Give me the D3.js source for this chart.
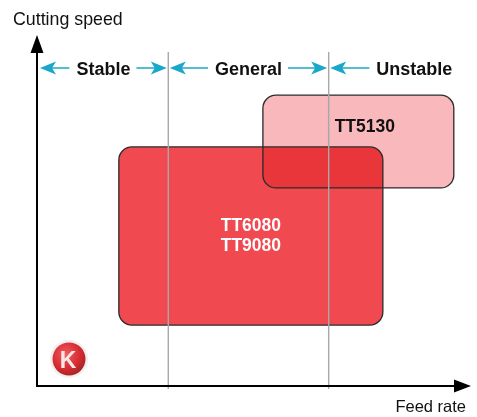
<!DOCTYPE html>
<html>
<head>
<meta charset="utf-8">
<script src="https://cdn.jsdelivr.net/npm/d3@7"></script>
<style>
  body { margin: 0; background: #fff; }
  svg text { font-family: "Liberation Sans", Arial, Helvetica, sans-serif; }
</style>
</head>
<body>
<div id="chart"></div>
<script>
// chart data (arbitrary units, 0..100 on both axes)
var zoneNames = ["Stable", "General", "Unstable"];
var zoneBounds = [0, 30.3, 67.6, 100];           // feed rate boundaries between zones
var gradeNames = [["TT6080", "TT9080"], ["TT5130"]];
var gradeFeed = [[18.8, 80.2], [52.3, 96.7]];     // feed rate extent of each grade box
var gradeSpeed = [[17.4, 68.3], [56.6, 83.1]];    // cutting speed extent of each grade box
var gradeColors = ["#f04a50", "#f8b8bc"];
var gradeTextColors = ["#ffffff", "#111111"];
var gradeLabelPos = [[49.5, 44.3], [76.0, 72.6]]; // label anchor [feed, speed]

var svgWidth = 477, svgHeight = 417;

var svg = d3.select("#chart").append("svg")
  .attr("width", svgWidth)
  .attr("height", svgHeight);

var x = d3.scaleLinear().domain([0, 100]).range([38, 468]);
var y = d3.scaleLinear().domain([0, 100]).range([386, 36]);

// grade boxes
var boxes = svg.append("g");
gradeNames.forEach(function(names, i) {
  boxes.append("rect")
    .attr("x", x(gradeFeed[i][0]))
    .attr("y", y(gradeSpeed[i][1]))
    .attr("width", x(gradeFeed[i][1]) - x(gradeFeed[i][0]))
    .attr("height", y(gradeSpeed[i][0]) - y(gradeSpeed[i][1]))
    .attr("rx", 13)
    .attr("fill", gradeColors[i])
    .style("mix-blend-mode", i > 0 ? "multiply" : "normal");
});
// outlines on top so both edges show through the overlap
gradeNames.forEach(function(names, i) {
  boxes.append("rect")
    .attr("x", x(gradeFeed[i][0]))
    .attr("y", y(gradeSpeed[i][1]))
    .attr("width", x(gradeFeed[i][1]) - x(gradeFeed[i][0]))
    .attr("height", y(gradeSpeed[i][0]) - y(gradeSpeed[i][1]))
    .attr("rx", 13)
    .attr("fill", "none")
    .attr("stroke", "#2a2a2a")
    .attr("stroke-width", 1.3);
});

// zone divider lines
svg.selectAll(".divider")
  .data(zoneBounds.slice(1, -1))
  .enter().append("line")
  .attr("class", "divider")
  .attr("x1", d => x(d)).attr("x2", d => x(d))
  .attr("y1", 52).attr("y2", 389)
  .attr("stroke", "#a8a8a8")
  .attr("stroke-width", 1.4);

// grade labels
gradeNames.forEach(function(names, i) {
  var t = svg.append("text")
    .attr("x", x(gradeLabelPos[i][0]))
    .attr("y", y(gradeLabelPos[i][1]))
    .attr("text-anchor", "middle")
    .attr("font-size", 17.5)
    .attr("font-weight", "bold")
    .attr("fill", gradeTextColors[i]);
  names.forEach(function(n, j) {
    t.append("tspan")
      .attr("x", x(gradeLabelPos[i][0]))
      .attr("dy", j === 0 ? 0 : 20)
      .text(n);
  });
});

// zone arrows
var arrowY = 68;
var cyan = "#1aa7c9";
function arrowHead(g, tipX, dir) {
  // dir = -1 points left, +1 points right
  var L = 16, W = 6.5, N = 4;
  g.append("path")
    .attr("d", "M" + tipX + "," + arrowY +
      "L" + (tipX - dir * L) + "," + (arrowY - W) +
      "L" + (tipX - dir * (L - N)) + "," + arrowY +
      "L" + (tipX - dir * L) + "," + (arrowY + W) + "Z")
    .attr("fill", cyan);
}
var zoneG = svg.append("g");
zoneNames.forEach(function(name, i) {
  var left = x(zoneBounds[i]) + (i === 0 ? 2 : 1.5);
  var right = x(zoneBounds[i + 1]) - 1.5;
  var mid = (left + right) / 2;
  var label = zoneG.append("text")
    .attr("x", mid)
    .attr("y", arrowY + 6.5)
    .attr("text-anchor", "middle")
    .attr("font-size", 18)
    .attr("font-weight", "bold")
    .attr("fill", "#111")
    .text(name);
  if (i === 2) label.attr("x", mid + 16);
  var w = label.node().getComputedTextLength();
  var cx = +label.attr("x");
  zoneG.append("line")
    .attr("x1", left + 4).attr("x2", cx - w / 2 - 7)
    .attr("y1", arrowY).attr("y2", arrowY)
    .attr("stroke", cyan).attr("stroke-width", 1.5);
  arrowHead(zoneG, left, -1);
  if (i < 2) {
    zoneG.append("line")
      .attr("x1", cx + w / 2 + 6).attr("x2", right - 4)
      .attr("y1", arrowY).attr("y2", arrowY)
      .attr("stroke", cyan).attr("stroke-width", 1.5);
    arrowHead(zoneG, right, 1);
  }
});

// axes with arrow heads
svg.append("line")
  .attr("x1", 37).attr("y1", 387).attr("x2", 37).attr("y2", 50)
  .attr("stroke", "#000").attr("stroke-width", 2);
svg.append("path")
  .attr("d", "M37,35L30.5,53L43.5,53Z")
  .attr("fill", "#000");
svg.append("line")
  .attr("x1", 36).attr("y1", 386).attr("x2", 457).attr("y2", 386)
  .attr("stroke", "#000").attr("stroke-width", 2);
svg.append("path")
  .attr("d", "M471,386L454,379.5L454,392.5Z")
  .attr("fill", "#000");

svg.append("text")
  .attr("x", 13).attr("y", 25)
  .attr("font-size", 17.8)
  .attr("fill", "#111")
  .text("Cutting speed");
svg.append("text")
  .attr("x", 466).attr("y", 412)
  .attr("text-anchor", "end")
  .attr("font-size", 16.5)
  .attr("fill", "#111")
  .text("Feed rate");

// logo
var defs = svg.append("defs");
var grad = defs.append("radialGradient").attr("id", "logoGrad")
  .attr("cx", "40%").attr("cy", "35%").attr("r", "65%");
grad.append("stop").attr("offset", "0%").attr("stop-color", "#f25a5e");
grad.append("stop").attr("offset", "70%").attr("stop-color", "#d42a30");
grad.append("stop").attr("offset", "100%").attr("stop-color", "#a8262a");
svg.append("circle")
  .attr("cx", 69).attr("cy", 359).attr("r", 19)
  .attr("fill", "#ece4e4").attr("opacity", 0.6);
svg.append("circle")
  .attr("cx", 69).attr("cy", 359).attr("r", 16.5)
  .attr("fill", "url(#logoGrad)");
svg.append("text")
  .attr("x", 68).attr("y", 367.5)
  .attr("text-anchor", "middle")
  .attr("font-size", 23)
  .attr("font-weight", "bold")
  .attr("fill", "#f6e6e6")
  .text("K");
</script>
</body>
</html>
